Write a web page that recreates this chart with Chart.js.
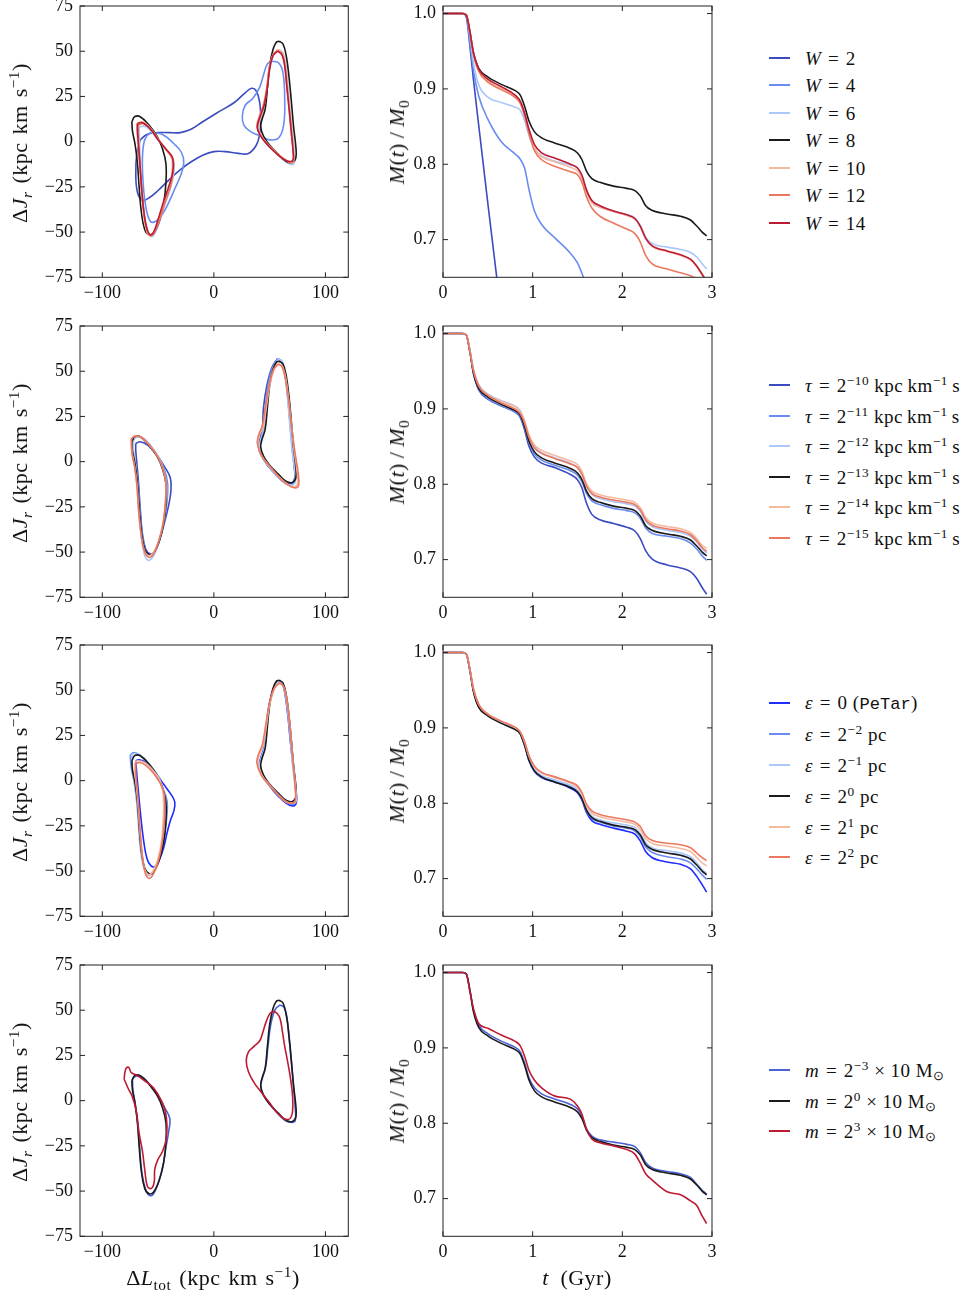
<!DOCTYPE html>
<html><head><meta charset="utf-8">
<script src="https://cdn.jsdelivr.net/npm/chart.js@4.4.0/dist/chart.umd.min.js"></script>
<style>
html,body{margin:0;padding:0;background:#fff;}
body{width:965px;height:1296px;position:relative;overflow:hidden;font-family:'Liberation Serif','Times New Roman',serif;color:#111;}
canvas{position:absolute;}
.ttl{position:absolute;white-space:nowrap;font-size:22px;transform:translate(-50%,-50%);line-height:1;word-spacing:2px;letter-spacing:0.5px;}
.rot{transform:translate(-50%,-50%) rotate(-90deg);}
.sw{position:absolute;width:21px;height:2px;left:769px;}
.lg{position:absolute;left:805px;white-space:nowrap;font-size:19px;transform:translateY(-50%);line-height:1;letter-spacing:0.5px;}
sup{font-size:0.7em;vertical-align:0.5em;line-height:0;}
sub{font-size:0.7em;vertical-align:-0.3em;line-height:0;}
.eq{margin:0 0.35em;}
.mono{font-family:'Liberation Mono','DejaVu Sans Mono',monospace;font-size:0.9em;letter-spacing:0;}
</style></head><body>
<script>
// ---------------- data ----------------
const T = [0, 0.22, 0.26, 0.30, 0.34, 0.40, 0.50, 0.65, 0.80, 0.86, 0.91, 0.96, 1.02, 1.10, 1.25, 1.42, 1.50, 1.55, 1.60, 1.66, 1.75, 1.90, 2.05, 2.14, 2.20, 2.26, 2.33, 2.50, 2.65, 2.76, 2.83, 2.89, 2.94];

// fiducial run (black in every row)
const massFid = [1.0, 1.0, 0.998, 0.976, 0.948, 0.927, 0.916, 0.906, 0.898, 0.892, 0.877, 0.857, 0.843, 0.835, 0.828, 0.821, 0.815, 0.806, 0.791, 0.781, 0.776, 0.771, 0.768, 0.765, 0.758, 0.745, 0.739, 0.734, 0.731, 0.726, 0.718, 0.710, 0.705];
const loopFidL = [[-73.5,11],[-71,13.8],[-66,13.8],[-58,9],[-51,3],[-46,-4],[-43,-12],[-43,-23],[-45,-34],[-49,-44],[-54,-50.5],[-58,-51.5],[-62,-48.5],[-65,-39],[-67,-25],[-68.5,-12],[-70.5,-2],[-73,6],[-73.5,11]];
const loopFidR = [[58.5,55.5],[62,54],[65,47],[67.5,35],[69.5,22],[71.5,8],[73.5,-3],[73.5,-9],[70.5,-11.5],[65,-11],[58,-7],[50,-2],[44.5,3],[42,8],[43,12],[46,18],[48,30],[50,42],[53,51],[56,55],[58.5,55.5]];

// Row 1: W
const massW2 = [1.0, 1.0, 0.995, 0.957, 0.912, 0.850, 0.748, 0.600];
const massW4 = [1.0, 1.0, 0.997, 0.962, 0.925, 0.890, 0.860, 0.830, 0.814, 0.807, 0.795, 0.766, 0.738, 0.720, 0.702, 0.682, 0.669, 0.655, 0.638];
const massW6 = [1.0, 1.0, 0.998, 0.972, 0.935, 0.905, 0.889, 0.882, 0.876, 0.872, 0.858, 0.838, 0.821, 0.811, 0.804, 0.799, 0.795, 0.785, 0.766, 0.751, 0.743, 0.738, 0.733, 0.729, 0.719, 0.703, 0.695, 0.690, 0.687, 0.683, 0.677, 0.668, 0.661];
const massW10 = [1.0, 1.0, 0.998, 0.976, 0.947, 0.924, 0.911, 0.901, 0.890, 0.882, 0.866, 0.843, 0.821, 0.810, 0.803, 0.796, 0.791, 0.781, 0.763, 0.749, 0.743, 0.737, 0.732, 0.727, 0.717, 0.701, 0.691, 0.684, 0.679, 0.673, 0.664, 0.653, 0.644];
const massW12 = [1.0, 1.0, 0.998, 0.975, 0.946, 0.923, 0.909, 0.899, 0.889, 0.881, 0.864, 0.840, 0.818, 0.806, 0.797, 0.790, 0.786, 0.776, 0.757, 0.742, 0.731, 0.722, 0.714, 0.708, 0.697, 0.679, 0.668, 0.661, 0.656, 0.652, 0.648, 0.645, 0.642];
const massW14 = [1.0, 1.0, 0.998, 0.976, 0.948, 0.926, 0.913, 0.903, 0.892, 0.884, 0.868, 0.846, 0.826, 0.815, 0.808, 0.800, 0.795, 0.785, 0.766, 0.752, 0.745, 0.738, 0.733, 0.728, 0.718, 0.702, 0.692, 0.685, 0.680, 0.674, 0.665, 0.654, 0.645];
const loopW2 = [[-66,1],[-60,4],[-50,5],[-40,5],[-30,5],[-20,7],[-10,11],[3,16],[18,21.5],[28,27],[34,29.5],[38,28],[41,22],[42,12],[41,4],[38,-2],[31,-6.5],[22,-6.5],[10,-5.5],[0,-5.5],[-10,-7.5],[-20,-11],[-30,-15.5],[-40,-21],[-50,-27],[-58,-31],[-64,-32.5],[-68.5,-28],[-70,-18],[-69,-6],[-66,1]];
const loopW4L = [[-55,5],[-46,4],[-36,-1],[-29,-6],[-27,-12],[-30,-19],[-35,-26],[-40,-33],[-46,-40],[-52,-44],[-57,-44],[-61,-36],[-63.5,-22],[-64,-8],[-62,1],[-58,4.5],[-55,5]];
const loopW4R = [[52,44.5],[58,43.6],[62,38],[63.5,23],[62.5,9],[58,2],[50,1],[42,3],[33,5.5],[27,9],[25.5,14],[28,20],[35,24],[41,30],[45,38],[48,43],[52,44.5]];
const loopW6L = [[-67,8],[-62,8.5],[-55,5],[-48,-1],[-41,-6],[-36,-11],[-36,-18],[-39,-26],[-44,-35],[-49,-45],[-53,-51],[-56,-52.5],[-59,-50],[-62,-42],[-64,-30],[-65.5,-16],[-66.5,-3],[-67,8]];
const loopW6R = [[58,51],[62,49],[64.5,42],[66.5,30],[68.5,17],[70.5,4],[72,-6],[72,-12],[68.5,-12.5],[62,-10],[55,-6],[47,-1],[41.5,4],[40,8],[42,13],[45.5,20],[48,30],[50,40],[53.5,48],[58,51]];
const loopW10L = [[-69,10],[-64,11],[-57,7.5],[-50,1.5],[-43.5,-4],[-38,-9],[-37.5,-17],[-40,-25],[-45,-34],[-50,-44],[-54,-50.5],[-57.5,-52],[-60.5,-49],[-63,-40],[-65,-27],[-66.5,-14],[-68,-2],[-69,6],[-69,10]];
const loopW10R = [[57.5,51],[61.5,49],[64,43],[66,31],[68,18],[70,5],[71.5,-5],[71.5,-11],[68.5,-11.5],[62,-9],[55,-5.5],[47,-0.5],[41.5,4.5],[39.5,8],[41.5,13],[45,20],[47.5,30],[49.5,40],[53,48],[57.5,51]];
const loopW12L = [[-68,9],[-63,10],[-56,6.5],[-49,0.5],[-42,-5],[-36.5,-10],[-36.5,-17],[-39,-25],[-44,-34],[-49,-44],[-53.5,-50.5],[-57,-52],[-60,-49],[-62.5,-40],[-64.5,-27],[-66,-14],[-67.5,-2],[-68,9]];
const loopW12R = [[57,50.5],[61,48.5],[63.5,42],[65.5,30],[67.5,17],[69.5,4],[71,-5.5],[71,-11],[68,-11.5],[61.5,-9],[54.5,-5.5],[46.5,-0.5],[41,4.5],[38.5,8.5],[40.5,13.5],[44.5,20.5],[47.5,30],[49.5,40],[52.5,47.5],[57,50.5]];
const loopW14L = [[-68.5,10],[-64,10.5],[-57,7],[-50,1],[-43,-4],[-37,-9],[-37,-17],[-40,-24],[-45,-33],[-50,-43],[-54,-50],[-57,-51.5],[-60,-48],[-62.5,-40],[-64.5,-28],[-66,-15],[-67.5,-2],[-68.5,6],[-68.5,10]];
const loopW14R = [[57,50],[61,48],[63.5,42],[65.5,30],[67.5,18],[69.5,5],[71,-5],[71,-10],[68,-11],[62,-9.5],[55,-6],[47,-1],[41,4],[39,8],[41,13],[45,20],[48,30],[50,40],[53,47.5],[57,50]];

// Row 2: tau
const massT10 = [1.0, 1.0, 0.998, 0.976, 0.947, 0.925, 0.913, 0.904, 0.896, 0.889, 0.872, 0.850, 0.836, 0.828, 0.822, 0.813, 0.806, 0.795, 0.775, 0.760, 0.753, 0.748, 0.743, 0.738, 0.728, 0.712, 0.701, 0.693, 0.689, 0.684, 0.675, 0.663, 0.654];
const massT11 = [1.0, 1.0, 0.998, 0.976, 0.947, 0.926, 0.914, 0.904, 0.896, 0.890, 0.875, 0.855, 0.840, 0.832, 0.825, 0.818, 0.812, 0.803, 0.788, 0.778, 0.773, 0.768, 0.765, 0.762, 0.755, 0.742, 0.735, 0.731, 0.728, 0.722, 0.714, 0.705, 0.699];
const massT12 = [1.0, 1.0, 0.998, 0.978, 0.952, 0.932, 0.920, 0.911, 0.904, 0.898, 0.884, 0.864, 0.850, 0.842, 0.835, 0.828, 0.822, 0.813, 0.797, 0.787, 0.781, 0.777, 0.774, 0.771, 0.764, 0.751, 0.744, 0.739, 0.736, 0.731, 0.723, 0.714, 0.709];
const massT14 = [1.0, 1.0, 0.998, 0.978, 0.952, 0.931, 0.919, 0.910, 0.903, 0.897, 0.884, 0.865, 0.852, 0.845, 0.838, 0.831, 0.826, 0.817, 0.801, 0.791, 0.786, 0.782, 0.779, 0.776, 0.769, 0.756, 0.749, 0.744, 0.741, 0.736, 0.728, 0.719, 0.715];
const massT15 = [1.0, 1.0, 0.998, 0.977, 0.951, 0.930, 0.918, 0.908, 0.900, 0.894, 0.881, 0.862, 0.848, 0.841, 0.834, 0.827, 0.822, 0.813, 0.798, 0.788, 0.783, 0.779, 0.776, 0.773, 0.766, 0.753, 0.746, 0.741, 0.738, 0.733, 0.725, 0.716, 0.711];
const loopT10L = [[-70,10],[-66,11],[-59,9],[-51,3.5],[-44,-3],[-39,-9],[-38.5,-16],[-40.5,-24],[-44,-33],[-48.5,-43],[-53,-49.5],[-57,-51],[-61,-48.5],[-64,-40],[-66,-26],[-67.5,-12],[-69,-1],[-70,6],[-70,10]];
const loopT10R = [[57,57],[60.5,55.5],[63.5,49],[66,37],[68,23],[70,9],[72,-3],[72.5,-9],[69.5,-12],[63.5,-11.5],[56,-7.5],[48,-2],[42.5,3.5],[40,8],[41.5,13],[43.5,19],[44.5,30],[47.5,42],[52,52],[57,57]];
const loopT11L = [[-73,12],[-70,13.5],[-64,13],[-56,8],[-49,2],[-44,-5],[-41.5,-12],[-42,-22],[-44.5,-33],[-48.5,-43],[-53.5,-50],[-57.5,-51.5],[-61.5,-48.5],[-64.5,-39],[-66.5,-25],[-68,-12],[-70,-2],[-72.5,6],[-73,12]];
const loopT11R = [[57.5,57],[61,55.5],[64,48],[66.5,36],[68.5,22],[70.5,8],[72.5,-4],[73,-10],[70,-12.5],[64,-12],[57,-8],[49,-2.5],[43,3],[40.5,8],[42,12.5],[44.5,19],[46,30],[48.5,42],[52.5,52],[57.5,57]];
const loopT12L = [[-72,12],[-69,13.5],[-63,13],[-56,8.5],[-49,2],[-45,-5],[-42.5,-13],[-43,-24],[-45.5,-35],[-50,-46],[-55,-53],[-59,-54.5],[-62.5,-51],[-65,-41],[-67,-27],[-68.5,-13],[-70,-3],[-72,6],[-72,12]];
const loopT12R = [[58,57],[61.5,55],[64,47],[66,35],[68,21],[70,7],[72.5,-5],[73,-11],[70,-13],[64,-12],[57,-8],[49,-2.5],[43,2.5],[40.5,7],[42,12],[45,18],[47,30],[49.5,42],[54,53],[58,57]];
const loopT14L = [[-74,13],[-71,14],[-65,13.5],[-57,8.5],[-50,2.5],[-45.5,-4],[-43,-12],[-43.5,-23],[-45.5,-34],[-49.5,-44],[-54.5,-50.5],[-58.5,-52],[-62.5,-49],[-65.5,-40],[-67.5,-26],[-69,-13],[-71,-3],[-73.5,6],[-74,13]];
const loopT14R = [[58,54],[61.5,52.5],[64.5,46],[67,34],[69.5,20],[72,6],[74.5,-5],[75,-12],[72,-14],[66,-12.5],[58.5,-8.5],[50,-2.5],[43,3],[39.5,9],[40.5,14],[44,19],[47,30],[50,42],[54,51],[58,54]];
const loopT15L = [[-74,12.5],[-71,14],[-65,13.5],[-57,8.5],[-50,2.5],[-45.5,-4],[-43,-12],[-43.5,-23],[-45.5,-34],[-49.5,-44],[-54,-51],[-58,-53],[-62,-50],[-65,-41],[-67.5,-27],[-69,-13],[-71,-3],[-73.5,5],[-74,12.5]];
const loopT15R = [[57.5,54],[61,52.5],[64,46],[67,34],[69.5,20],[72.5,6],[75.5,-6],[76,-13],[73,-14.5],[66.5,-13],[59,-9],[50.5,-3],[43,3],[39,10],[40,14.5],[43.5,20],[46.5,31],[49.5,42],[53.5,51],[57.5,54]];

// Row 3: epsilon
const massE0 = [1.0, 1.0, 0.998, 0.977, 0.950, 0.929, 0.918, 0.908, 0.899, 0.893, 0.877, 0.856, 0.842, 0.834, 0.828, 0.820, 0.814, 0.804, 0.788, 0.777, 0.772, 0.767, 0.763, 0.759, 0.750, 0.736, 0.728, 0.722, 0.719, 0.713, 0.703, 0.692, 0.682];
const massEm2 = [1.0, 1.0, 0.998, 0.977, 0.950, 0.929, 0.917, 0.907, 0.899, 0.893, 0.878, 0.857, 0.843, 0.835, 0.829, 0.822, 0.816, 0.806, 0.790, 0.780, 0.775, 0.770, 0.767, 0.763, 0.755, 0.742, 0.735, 0.729, 0.726, 0.721, 0.713, 0.705, 0.699];
const massEm1 = [1.0, 1.0, 0.998, 0.977, 0.951, 0.930, 0.918, 0.908, 0.900, 0.894, 0.879, 0.859, 0.845, 0.837, 0.831, 0.824, 0.818, 0.808, 0.793, 0.783, 0.778, 0.774, 0.771, 0.768, 0.760, 0.748, 0.741, 0.737, 0.734, 0.729, 0.721, 0.712, 0.707];
const massEp1 = [1.0, 1.0, 0.998, 0.978, 0.952, 0.931, 0.919, 0.909, 0.901, 0.895, 0.881, 0.862, 0.848, 0.840, 0.834, 0.827, 0.821, 0.812, 0.797, 0.787, 0.782, 0.778, 0.775, 0.772, 0.765, 0.753, 0.747, 0.743, 0.740, 0.736, 0.728, 0.721, 0.717];
const massEp2 = [1.0, 1.0, 0.998, 0.978, 0.952, 0.931, 0.918, 0.909, 0.901, 0.895, 0.882, 0.863, 0.849, 0.841, 0.835, 0.828, 0.823, 0.814, 0.799, 0.790, 0.785, 0.781, 0.778, 0.775, 0.769, 0.757, 0.751, 0.747, 0.745, 0.741, 0.734, 0.728, 0.724];
const loopE0L = [[-70,11],[-67,11.5],[-61,10],[-53,5],[-45,-2],[-38,-8],[-35,-12],[-36,-17],[-39,-22],[-42,-29],[-45,-37],[-49,-44],[-53,-47.5],[-56.5,-47],[-60,-43],[-63,-33],[-65.5,-20],[-67.5,-7],[-69,3],[-70,11]];
const loopE0R = [[58,55],[61.5,53.5],[64,47],[66.5,35],[68.5,22],[71,8],[73.5,-5],[74,-12],[71,-14],[65,-12.5],[57.5,-8.5],[49.5,-2.5],[43,3],[40.5,8],[42,12.5],[45,18.5],[47,30],[49.5,42],[54,52],[58,55]];
const loopEm2L = [[-75,14],[-72,15.5],[-66,14],[-58,9],[-51,3],[-46,-4],[-42,-11],[-42.5,-22],[-45,-33],[-49,-43],[-54,-50],[-58,-51.5],[-62,-48.5],[-65,-39],[-67,-25],[-69,-12],[-71,-2],[-74,7],[-75,14]];
const loopEm2R = [[58,55],[61.5,53.5],[64.5,47],[67,35],[69.5,21],[71.5,7],[73.5,-4],[74,-11],[71,-13],[65,-12],[57.5,-8],[49.5,-2],[43.5,3],[41,8],[42.5,12],[45.5,18],[47.5,30],[50,42],[54,52],[58,55]];
const loopEm1L = [[-73.5,14.5],[-70.5,15],[-64.5,13.5],[-57,8.5],[-50,2.5],[-45.5,-4.5],[-43,-12],[-43.5,-23],[-46,-34],[-50,-44],[-55,-51],[-59,-52.5],[-62.5,-49],[-65.5,-40],[-67.5,-26],[-69,-13],[-71,-3],[-73,6],[-73.5,14.5]];
const loopEm1R = [[58.5,55],[62,53],[64.5,46],[67,34],[69,20],[71,6],[73,-5],[73.5,-11],[70.5,-12.5],[64.5,-11.5],[57.5,-7.5],[49.5,-2],[43.5,3],[41,8],[42.5,12.5],[45.5,18.5],[47.5,30],[50,42],[54.5,52],[58.5,55]];
const loopEp1L = [[-71,10],[-68,11],[-62,10],[-55,6],[-49,1],[-46,-5],[-45,-12],[-45.5,-23],[-47,-34],[-50.5,-44],[-55,-50.5],[-58.5,-52],[-62,-49],[-64.5,-40],[-66.5,-26],[-68,-13],[-69.5,-3],[-71,5],[-71,10]];
const loopEp1R = [[58.5,54],[62,52.5],[65,46],[67.5,34],[69.5,21],[71.5,7],[73.5,-5],[73.5,-11],[70.5,-12.5],[64.5,-11.5],[57.5,-7.5],[49.5,-2],[43,3],[39.5,9],[40.5,14],[44,19],[47,30],[50,42],[54.5,51],[58.5,54]];
const loopEp2L = [[-70,9],[-67,10],[-61,8.5],[-54,4],[-48.5,-1],[-45,-6],[-44,-13],[-44.5,-24],[-46.5,-35],[-50,-45],[-54.5,-52],[-58,-54],[-61.5,-51],[-64,-42],[-66,-28],[-67.5,-14],[-69,-3],[-70,4],[-70,9]];
const loopEp2R = [[58.5,54],[62,52.5],[65,46],[67.5,34],[69.5,21],[71.5,7],[73,-5],[73,-11],[70,-12.5],[64,-11.5],[57,-7.5],[49,-2],[42.5,3],[38.5,10],[40,14.5],[43.5,20],[46.5,31],[49.5,42],[54,51],[58.5,54]];

// Row 4: particle mass
const massMm3 = [1.0, 1.0, 0.998, 0.977, 0.950, 0.930, 0.919, 0.909, 0.901, 0.895, 0.880, 0.860, 0.847, 0.839, 0.832, 0.825, 0.819, 0.809, 0.793, 0.783, 0.778, 0.775, 0.772, 0.769, 0.761, 0.748, 0.741, 0.736, 0.733, 0.728, 0.719, 0.711, 0.706];
const massMp3 = [1.0, 1.0, 0.998, 0.975, 0.952, 0.932, 0.926, 0.917, 0.909, 0.903, 0.889, 0.870, 0.857, 0.847, 0.836, 0.832, 0.823, 0.812, 0.792, 0.779, 0.774, 0.770, 0.765, 0.759, 0.747, 0.733, 0.725, 0.709, 0.705, 0.697, 0.691, 0.677, 0.667];
const loopMm3L = [[-73,12],[-70,13.5],[-64,13],[-57,8.5],[-50,2.5],[-44,-4],[-39.5,-10],[-40.5,-17],[-43,-26],[-45.5,-36],[-49.5,-45],[-54,-51.5],[-57.5,-52.5],[-61,-49.5],[-64.5,-40],[-66.5,-26],[-68.5,-12],[-70.5,-2],[-72.5,6],[-73,12]];
const loopMm3R = [[59.5,53],[63,51.5],[65.5,46],[67.5,34],[69.5,21],[71.5,7],[73,-5],[73,-11],[70,-12],[64,-11],[57,-7],[49.5,-1.5],[44,3.5],[42,8],[43.5,12.5],[46.5,19],[48.5,30],[51,42],[55,50.5],[59.5,53]];
const loopMp3L = [[-80.5,12],[-79,17.5],[-76.5,18.5],[-74,15.5],[-69,14],[-62,11],[-54,7],[-47,0],[-43.5,-6],[-42,-14],[-43,-22],[-46,-28],[-50.5,-33],[-53,-38],[-53.5,-45],[-56,-48.5],[-59.5,-47.5],[-62,-38],[-64,-28],[-67,-18],[-69.5,-6],[-73,2],[-77,7],[-80.5,12]];
const loopMp3R = [[53.5,49.5],[57,48],[59.5,45],[61.5,38],[63.5,30],[66,22],[68.5,13],[70.5,3],[70.5,-6],[68,-10],[63,-10],[56.5,-6.5],[49,-0.5],[42,5],[36,10],[31,16],[29,22],[31,27],[36,30],[41,33],[44,38],[46.5,43],[50,48],[53.5,49.5]];

// ticks
const leftXTicks = [-100, 0, 100];
const leftYTicks = [-75, -50, -25, 0, 25, 50, 75];
const rightXTicks = [0, 1, 2, 3];
const rightYTicks = [0.7, 0.8, 0.9, 1.0];

// legend parameters
const wValues = [2, 4, 6, 8, 10, 12, 14];
const tauExps = [-10, -11, -12, -13, -14, -15];
const epsVals = ['0', -2, -1, 0, 1, 2];
const mExps = [-3, 0, 3];

// colours
const cDark = '#3b4cc0', cMid = '#6a8cf0', cLight = '#aac8fa', cBlack = '#1a1a1a',
      cLSal = '#f5b9a0', cSal = '#eb785f', cRed = '#bd1b34', cPure = '#1f2dff', cBlue4 = '#4a62d6';

// ---------------- drawing ----------------
Chart.defaults.font.family = "'Liberation Serif','Times New Roman',serif";
Chart.defaults.font.size = 18;
Chart.defaults.color = '#111';

const framePlugin = {
  id: 'frame',
  afterDraw(chart) {
    const {ctx, chartArea: a, scales} = chart;
    ctx.save();
    ctx.strokeStyle = '#222';
    ctx.lineWidth = 1;
    ctx.strokeRect(a.left, a.top, a.right - a.left, a.bottom - a.top);
    const L = 5;
    ctx.beginPath();
    scales.x.ticks.forEach(t => {
      const p = scales.x.getPixelForValue(t.value);
      ctx.moveTo(p, a.bottom); ctx.lineTo(p, a.bottom - L);
      ctx.moveTo(p, a.top); ctx.lineTo(p, a.top + L);
    });
    scales.y.ticks.forEach(t => {
      const p = scales.y.getPixelForValue(t.value);
      ctx.moveTo(a.left, p); ctx.lineTo(a.left + L, p);
      ctx.moveTo(a.right, p); ctx.lineTo(a.right - L, p);
    });
    ctx.stroke();
    ctx.restore();
  }
};

const minusFmt = v => (v < 0 ? '\u2212' + Math.abs(v) : String(v));

function axis(tickVals, min, max, fmt, pad) {
  return {
    type: 'linear', min, max,
    grid: {display: false, drawTicks: false},
    border: {display: false},
    afterBuildTicks: s => { s.ticks = tickVals.map(v => ({value: v})); },
    ticks: {padding: pad, callback: fmt, maxRotation: 0, autoSkip: false}
  };
}

const rowTops = [6, 325.7, 645.4, 965.1];
const areaH = 271.3;

// targetLeft/targetTop: page position of the plotting area; areaW: its width
function makeChart(targetLeft, targetTop, areaW, yW, datasets, xAxis, yAxis) {
  const W = 380, H = 340;
  const st = {xH: 30};
  const cv = document.createElement('canvas');
  cv.width = W; cv.height = H;
  cv.style.width = W + 'px'; cv.style.height = H + 'px';
  cv.style.left = (targetLeft - yW) + 'px'; cv.style.top = (targetTop - 20) + 'px';
  document.body.appendChild(cv);
  xAxis.afterFit = s => { s.height = st.xH; };
  yAxis.afterFit = s => { s.width = yW; };
  const chart = new Chart(cv, {
    type: 'scatter',
    data: {datasets},
    options: {
      responsive: false, animation: false, devicePixelRatio: 1, events: [],
      layout: {autoPadding: false, padding: {top: 20, right: W - yW - areaW, left: 0, bottom: 0}},
      plugins: {legend: {display: false}, tooltip: {enabled: false}},
      scales: {x: xAxis, y: yAxis}
    },
    plugins: [framePlugin]
  });
  // second pass: make the plotting area exactly areaW x areaH
  let a = chart.chartArea;
  st.xH += (a.bottom - a.top) - areaH;
  const rightPad = (W - a.right) + (a.right - a.left) - areaW;
  chart.options.layout.padding = {top: 20, right: rightPad, left: 0, bottom: 0};
  chart.update();
  a = chart.chartArea;
  cv.style.left = (targetLeft - a.left) + 'px';
  cv.style.top = (targetTop - a.top) + 'px';
  return chart;
}

function loopSets(series) {
  const out = [];
  series.forEach(s => s.loops.forEach(l => out.push({
    data: l.map(p => ({x: p[0], y: p[1]})), borderColor: s.color, borderWidth: 1.6,
    pointRadius: 0, showLine: true, tension: 0.4, fill: false
  })));
  return out.reverse();
}
function massSets(series) {
  return series.map(s => ({
    data: s.vals.map((v, i) => ({x: T[i], y: v})), borderColor: s.color, borderWidth: 1.6,
    pointRadius: 0, showLine: true, cubicInterpolationMode: 'monotone', fill: false
  })).reverse();
}

const rows = [
  {
    loops: [
      {color: cDark, loops: [loopW2]}, {color: cMid, loops: [loopW4L, loopW4R]},
      {color: cLight, loops: [loopW6L, loopW6R]}, {color: cBlack, loops: [loopFidL, loopFidR]},
      {color: cLSal, loops: [loopW10L, loopW10R]}, {color: cSal, loops: [loopW12L, loopW12R]},
      {color: cRed, loops: [loopW14L, loopW14R]}
    ],
    mass: [
      {color: cDark, vals: massW2}, {color: cMid, vals: massW4}, {color: cLight, vals: massW6},
      {color: cBlack, vals: massFid}, {color: cLSal, vals: massW10}, {color: cSal, vals: massW12},
      {color: cRed, vals: massW14}
    ],
    legend: wValues.map(w => '<i>W</i><span class="eq">=</span>' + w),
    lstart: 57.5, lstep: 27.55
  },
  {
    loops: [
      {color: cDark, loops: [loopT10L, loopT10R]}, {color: cMid, loops: [loopT11L, loopT11R]},
      {color: cLight, loops: [loopT12L, loopT12R]}, {color: cBlack, loops: [loopFidL, loopFidR]},
      {color: cLSal, loops: [loopT14L, loopT14R]}, {color: cSal, loops: [loopT15L, loopT15R]}
    ],
    mass: [
      {color: cDark, vals: massT10}, {color: cMid, vals: massT11}, {color: cLight, vals: massT12},
      {color: cBlack, vals: massFid}, {color: cLSal, vals: massT14}, {color: cSal, vals: massT15}
    ],
    legend: tauExps.map(e => '<i>τ</i><span class="eq">=</span>2<sup>\u2212' + Math.abs(e) + '</sup> kpc\u2009km<sup>\u22121</sup>\u2009s'),
    lstart: 385, lstep: 30.55
  },
  {
    loops: [
      {color: cPure, loops: [loopE0L, loopE0R]}, {color: cMid, loops: [loopEm2L, loopEm2R]},
      {color: cLight, loops: [loopEm1L, loopEm1R]}, {color: cBlack, loops: [loopFidL, loopFidR]},
      {color: cLSal, loops: [loopEp1L, loopEp1R]}, {color: cSal, loops: [loopEp2L, loopEp2R]}
    ],
    mass: [
      {color: cPure, vals: massE0}, {color: cMid, vals: massEm2}, {color: cLight, vals: massEm1},
      {color: cBlack, vals: massFid}, {color: cLSal, vals: massEp1}, {color: cSal, vals: massEp2}
    ],
    legend: epsVals.map(e => typeof e === 'string'
      ? '<i>ε</i><span class="eq">=</span>' + e + ' (<span class="mono">PeTar</span>)'
      : '<i>ε</i><span class="eq">=</span>2<sup>' + minusFmt(e) + '</sup> pc'),
    lstart: 703.3, lstep: 30.8
  },
  {
    loops: [
      {color: cBlue4, loops: [loopMm3L, loopMm3R]}, {color: cBlack, loops: [loopFidL, loopFidR]},
      {color: cRed, loops: [loopMp3L, loopMp3R]}
    ],
    mass: [
      {color: cBlue4, vals: massMm3}, {color: cBlack, vals: massFid}, {color: cRed, vals: massMp3}
    ],
    legend: mExps.map(e => '<i>m</i><span class="eq">=</span>2<sup>' + minusFmt(e) + '</sup> × 10 M<sub>⊙</sub>'),
    lstart: 1070, lstep: 30.5
  }
];

rows.forEach((r, i) => {
  const top = rowTops[i];
  makeChart(80, top, 268.3, 80, loopSets(r.loops),
    axis(leftXTicks, -120, 120.5, minusFmt, 5),
    axis(leftYTicks, -75, 75, minusFmt, 7));
  makeChart(443.3, top, 269, 80, massSets(r.mass),
    axis(rightXTicks, 0, 3, v => String(v), 5),
    axis(rightYTicks, 0.65, 1.01, v => v.toFixed(1), 7));

  // axis titles
  const yt = document.createElement('div');
  yt.className = 'ttl rot';
  yt.style.left = '20px'; yt.style.top = (top + 137) + 'px';
  yt.innerHTML = 'Δ<i>J</i><sub><i>r</i></sub> (kpc km s<sup>\u22121</sup>)';
  document.body.appendChild(yt);
  const mt = document.createElement('div');
  mt.className = 'ttl rot';
  mt.style.left = '397px'; mt.style.top = (top + 136) + 'px';
  mt.innerHTML = '<i>M</i>(<i>t</i>)\u2009/\u2009<i>M</i><sub>0</sub>';
  document.body.appendChild(mt);

  // legend
  r.legend.forEach((txt, k) => {
    const y = r.lstart + r.lstep * k;
    const sw = document.createElement('div');
    sw.className = 'sw';
    sw.style.top = (y - 1) + 'px';
    sw.style.background = r.mass[k].color;
    document.body.appendChild(sw);
    const lg = document.createElement('div');
    lg.className = 'lg';
    lg.style.top = y + 'px';
    lg.innerHTML = txt;
    document.body.appendChild(lg);
  });
});

const xt1 = document.createElement('div');
xt1.className = 'ttl';
xt1.style.left = '213px'; xt1.style.top = '1278px';
xt1.innerHTML = 'Δ<i>L</i><sub>tot</sub> (kpc km s<sup>\u22121</sup>)';
document.body.appendChild(xt1);
const xt2 = document.createElement('div');
xt2.className = 'ttl';
xt2.style.left = '577px'; xt2.style.top = '1278px';
xt2.innerHTML = '<i>t</i>&ensp;(Gyr)';
document.body.appendChild(xt2);
</script>
</body></html>
